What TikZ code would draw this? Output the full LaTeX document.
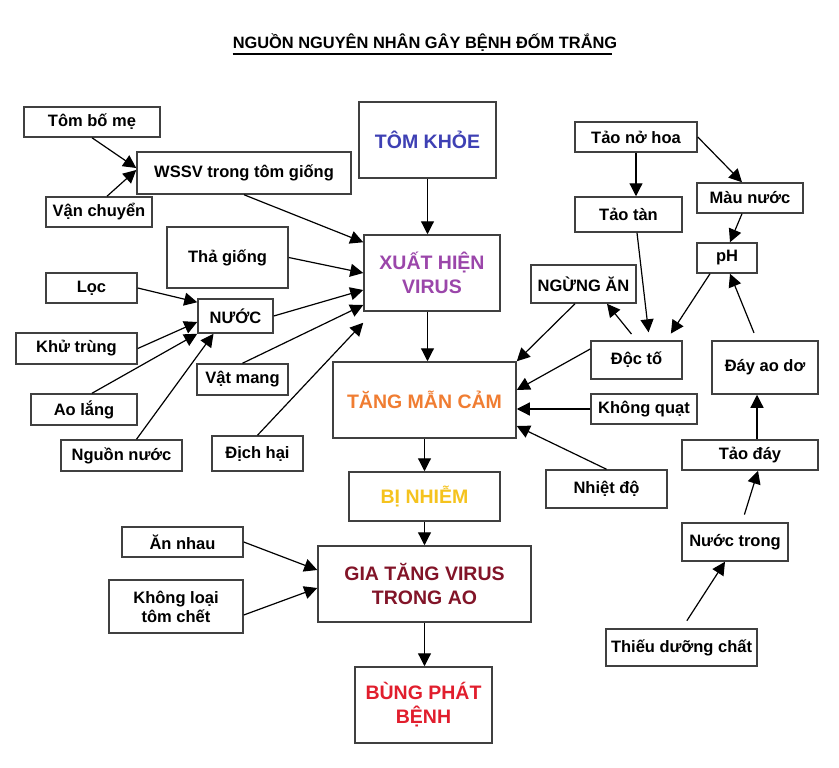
\documentclass[tikz,border=0pt]{standalone}
\usepackage{fontspec}
\setmainfont{Liberation Sans}
\usetikzlibrary{arrows.meta}
\definecolor{khoe}{RGB}{62,64,180}
\definecolor{xuathien}{RGB}{155,70,170}
\definecolor{mancam}{RGB}{240,125,50}
\definecolor{nhiem}{RGB}{245,195,30}
\definecolor{giatang}{RGB}{130,20,40}
\definecolor{bungphat}{RGB}{225,30,45}
\begin{document}
\begin{tikzpicture}[x=1pt,y=-1pt,
  box/.style={draw=black!75,line width=1.5pt,inner sep=0pt,align=center,font=\fontsize{16.5}{19}\selectfont\bfseries},
  bigbox/.style={box,font=\fontsize{19.5}{24}\selectfont\bfseries},
  arr/.style={-{Triangle[length=13pt,width=13pt]},line width=1.2pt}]
\useasboundingbox[fill=white] (0,0) rectangle (839,768);
\node[inner sep=0pt,font=\fontsize{16.4}{19}\selectfont\bfseries] (title) at (425,43) {NGUỒN NGUYÊN NHÂN GÂY BỆNH ĐỐM TRẮNG};
\draw[line width=2pt] ([yshift=-5pt]title.base west) -- ([yshift=-5pt,xshift=-5pt]title.base east);
\node[box,minimum width=136pt,minimum height=30pt] (tbm) at (92,122) {Tôm bố mẹ};
\node[box,minimum width=214pt,minimum height=42pt] (wssv) at (244,173) {WSSV trong tôm giống};
\node[box,minimum width=106pt,minimum height=30pt] (vc) at (99,212) {Vận chuyển};
\node[box,minimum width=121pt,minimum height=61pt] (tg) at (227.5,257.5) {Thả giống};
\node[box,minimum width=91pt,minimum height=30pt] (loc) at (91.5,288) {Lọc};
\node[box,minimum width=75pt,minimum height=34pt] (nuoc) at (235.5,316) {NƯỚC};
\node[box,minimum width=121pt,minimum height=31pt] (kt) at (76.5,348.5) {Khử trùng};
\node[box,minimum width=106pt,minimum height=31pt] (al) at (84,409.5) {Ao lắng};
\node[box,minimum width=121pt,minimum height=31pt] (nn) at (121.5,455.5) {Nguồn nước};
\node[box,minimum width=91pt,minimum height=31pt] (vm) at (242.5,379.5) {Vật mang};
\node[box,minimum width=91pt,minimum height=35pt] (dh) at (257.5,453.5) {Địch hại};
\node[bigbox,minimum width=137pt,minimum height=76pt,text=khoe] (tk) at (427.5,140) {TÔM KHỎE};
\node[bigbox,minimum width=136pt,minimum height=76pt,text=xuathien] (xh) at (432,273) {XUẤT HIỆN\\VIRUS};
\node[bigbox,minimum width=183pt,minimum height=76pt,text=mancam] (tmc) at (424.5,400) {TĂNG MẪN CẢM};
\node[bigbox,minimum width=151pt,minimum height=49pt,text=nhiem] (bn) at (424.5,496.5) {BỊ NHIỄM};
\node[bigbox,minimum width=213pt,minimum height=76pt,text=giatang] (gt) at (424.5,584) {GIA TĂNG VIRUS\\TRONG AO};
\node[bigbox,minimum width=137pt,minimum height=76pt,text=bungphat] (bp) at (423.5,705) {BÙNG PHÁT\\BỆNH};
\node[box,minimum width=121pt,minimum height=30pt] (an) at (182.5,542) {Ăn nhau};
\node[box,minimum width=134pt,minimum height=53pt] (kl) at (176,606.5) {Không loại\\tôm chết};
\node[box,minimum width=122pt,minimum height=30pt] (tnh) at (636,137) {Tảo nở hoa};
\node[box,minimum width=107pt,minimum height=35pt] (tt) at (628.5,214.5) {Tảo tàn};
\node[box,minimum width=106pt,minimum height=30pt] (mn) at (750,198) {Màu nước};
\node[box,minimum width=60pt,minimum height=30pt] (ph) at (727,258) {pH};
\node[box,minimum width=105pt,minimum height=38pt] (na) at (583.5,284) {NGỪNG ĂN};
\node[box,minimum width=91pt,minimum height=38pt] (dt) at (636.5,360) {Độc tố};
\node[box,minimum width=106pt,minimum height=30pt] (kq) at (644,409) {Không quạt};
\node[box,minimum width=121pt,minimum height=38pt] (nd) at (606.5,489) {Nhiệt độ};
\node[box,minimum width=106pt,minimum height=53pt] (dad) at (765,367.5) {Đáy ao dơ};
\node[box,minimum width=136pt,minimum height=30pt] (td) at (750,455) {Tảo đáy};
\node[box,minimum width=106pt,minimum height=38pt] (ntr) at (735,542) {Nước trong};
\node[box,minimum width=151pt,minimum height=37pt] (tdc) at (681.5,647.5) {Thiếu dưỡng chất};
\draw[arr] (tbm.south) -- ([yshift=5pt]wssv.west);
\draw[arr] ([xshift=8pt]vc.north) -- ([yshift=3pt]wssv.west);
\draw[arr] (wssv.south) -- ([yshift=-8pt]xh.north west);
\draw[arr] (tg.east) -- (xh.west);
\draw[arr] (nuoc.east) -- ([yshift=-17pt]xh.west);
\draw[arr] (vm.north) -- ([yshift=-32pt]xh.west);
\draw[arr] (dh.north) -- ([yshift=-11pt]xh.south west);
\draw[arr] (loc.east) -- ([yshift=-4pt]nuoc.north west);
\draw[arr] (kt.east) -- ([yshift=-6pt]nuoc.west);
\draw[arr] ([xshift=8pt]al.north) -- (nuoc.south west);
\draw[arr] ([xshift=15pt]nn.north) -- ([xshift=-22pt]nuoc.south);
\draw[arr] (tk.south) -- (tk.south |- xh.north);
\draw[arr] (xh.south -| tk.south) -- (tk.south |- tmc.north);
\draw[arr] (tmc.south) -- (bn.north);
\draw[arr] (bn.south) -- (gt.north);
\draw[arr] (gt.south) -- (gt.south |- bp.north);
\draw[arr] (an.east) -- ([yshift=14pt]gt.west);
\draw[arr] ([yshift=-8.5pt]kl.east) -- ([yshift=-4pt]gt.west);
\draw[arr] ([xshift=-8.5pt]na.south) -- (tmc.north east);
\draw[arr,shorten <=8pt] (dt.north) -- ([xshift=23.5pt]na.south);
\draw[arr,shorten >=8pt] ([xshift=8.5pt]tt.south) -- ([xshift=13pt]dt.north);
\draw[arr,shorten >=8pt] ([xshift=-17pt]ph.south) -- ([xshift=30pt]dt.north);
\draw[arr] ([yshift=11pt]dt.west) -- ([yshift=10pt]tmc.east);
\draw[arr] (kq.west) -- (kq.west -| tmc.east);
\draw[arr] (nd.north) -- ([yshift=-26pt]tmc.east);
\draw[arr] (tnh.south) -- (tnh.south |- tt.north);
\draw[arr] (tnh.east) -- ([xshift=-8pt]mn.north);
\draw[arr] ([xshift=-8pt]mn.south) -- ([xshift=3pt]ph.north);
\draw[arr,shorten <=8pt] ([xshift=-8pt]dad.north) -- ([xshift=3pt]ph.south);
\draw[arr] ([xshift=7pt]td.north) -- ([xshift=7pt]td.north |- dad.south);
\draw[arr,shorten <=8pt] ([xshift=7pt]ntr.north) -- ([xshift=8pt]td.south);
\draw[arr,shorten <=9pt] ([xshift=0.5pt]tdc.north) -- ([xshift=-10pt]ntr.south);
\end{tikzpicture}
\end{document}
